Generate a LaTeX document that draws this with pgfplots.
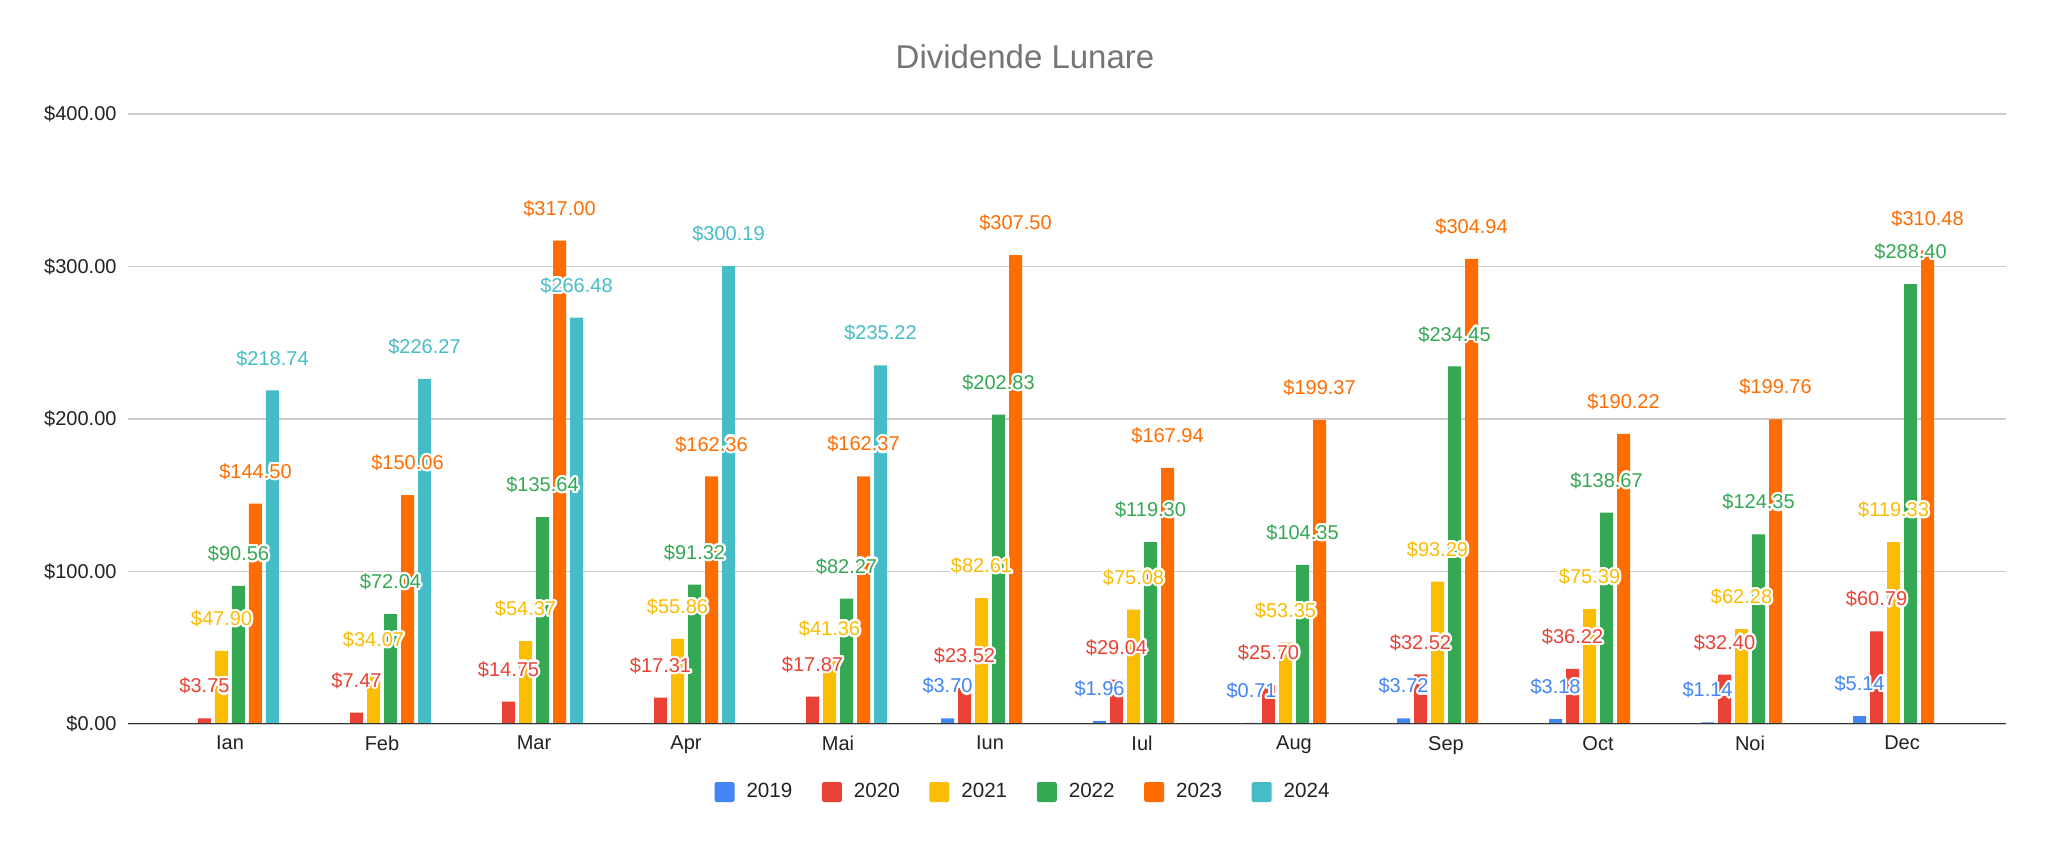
\documentclass[border=0pt]{standalone}
\usepackage{pgfplots}
\pgfplotsset{compat=1.18}
\usepackage{fontspec}
\setmainfont{Liberation Sans}
\usepackage[copies]{contour}
\contourlength{1.1pt}
\contournumber{16}
\definecolor{c2019}{HTML}{4285F4}
\definecolor{c2020}{HTML}{EA4335}
\definecolor{c2021}{HTML}{FBBC04}
\definecolor{c2022}{HTML}{34A853}
\definecolor{c2023}{HTML}{FF6D01}
\definecolor{c2024}{HTML}{46BDC6}
\definecolor{titlegray}{HTML}{757575}
\definecolor{labelgray}{HTML}{222222}
\definecolor{gridgray}{HTML}{CCCCCC}
\definecolor{axisgray}{HTML}{333333}

\begin{document}
\begin{tikzpicture}
\useasboundingbox (0,0) rectangle (1024pt,422.5pt);
\fill[white] (0,0) rectangle (1024pt,422.5pt);
\node[text=titlegray, font=\fontsize{16.5}{20}\selectfont] at (512.5pt,394pt) {Dividende Lunare};
\begin{axis}[
  at={(64pt,60.5pt)}, anchor=south west,
  scale only axis, width=939pt, height=305pt,
  xmin=-0.671, xmax=11.684, ymin=0, ymax=400,
  ybar=2pt, bar width=6.5pt,
  xtick={0,...,11},
  xticklabels={Ian,Feb,Mar,Apr,Mai,Iun,Iul,Aug,Sep,Oct,Noi,Dec},
  ytick={0,100,200,300,400},
  /pgf/number format/assume math mode=true,
  yticklabel={\$\pgfmathprintnumber[fixed,fixed zerofill,precision=2]{\tick}},
  ticklabel style={font=\fontsize{10}{12}\selectfont, text=labelgray},
  xticklabel style={yshift=-2.5pt},
  yticklabel style={xshift=-2.2pt},
  major tick length=0pt,
  axis line style={draw=none},
  ymajorgrids,
  grid style={gridgray, line width=0.75pt},
  nodes near coords={\contour{white}{\$\pgfmathprintnumber[fixed,fixed zerofill,precision=2]{\pgfplotspointmeta}}},
  every node near coord/.append style={anchor=center, yshift=15.5pt, font=\fontsize{10}{12}\selectfont},
  legend columns=6,
  legend style={draw=none, at={(0.4771,-0.1115)}, anchor=center,
    font=\fontsize{10.3}{12}\selectfont, text=labelgray,
    /tikz/every even column/.append style={column sep=12.8pt}},
  legend image code/.code={\fill[#1, rounded corners=0.8pt] (0pt,-5pt) rectangle (10pt,5pt); \path (14pt,0pt);},
]
\addplot[fill=c2019, draw=none, every node near coord/.append style={text=c2019}] coordinates {
 (5,3.70) (6,1.96) (7,0.71) (8,3.72) (9,3.18) (10,1.14) (11,5.14)};
\addplot[fill=c2020, draw=none, every node near coord/.append style={text=c2020}] coordinates {
 (0,3.75) (1,7.47) (2,14.75) (3,17.31) (4,17.87) (5,23.52) (6,29.04) (7,25.70) (8,32.52) (9,36.22) (10,32.40) (11,60.79)};
\addplot[fill=c2021, draw=none, every node near coord/.append style={text=c2021}] coordinates {
 (0,47.90) (1,34.07) (2,54.37) (3,55.86) (4,41.36) (5,82.61) (6,75.08) (7,53.35) (8,93.29) (9,75.39) (10,62.28) (11,119.33)};
\addplot[fill=c2022, draw=none, every node near coord/.append style={text=c2022}] coordinates {
 (0,90.56) (1,72.04) (2,135.64) (3,91.32) (4,82.27) (5,202.83) (6,119.30) (7,104.35) (8,234.45) (9,138.67) (10,124.35) (11,288.40)};
\addplot[fill=c2023, draw=none, every node near coord/.append style={text=c2023}] coordinates {
 (0,144.50) (1,150.06) (2,317.00) (3,162.36) (4,162.37) (5,307.50) (6,167.94) (7,199.37) (8,304.94) (9,190.22) (10,199.76) (11,310.48)};
\addplot[fill=c2024, draw=none, every node near coord/.append style={text=c2024}] coordinates {
 (0,218.74) (1,226.27) (2,266.48) (3,300.19) (4,235.22)};
\legend{2019,2020,2021,2022,2023,2024}
\draw[axisgray, line width=1pt] (rel axis cs:0,0) -- (rel axis cs:1,0);
\end{axis}
\end{tikzpicture}
\end{document}
